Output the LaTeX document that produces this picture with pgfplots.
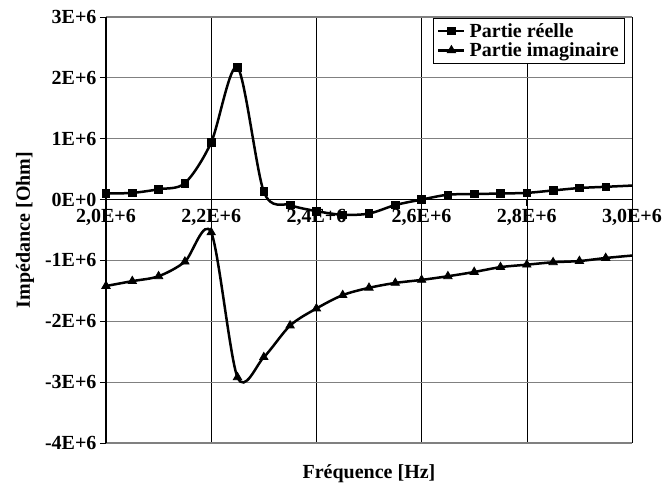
\documentclass[border=0pt]{standalone}
\usepackage{pgfplots}
\pgfplotsset{compat=1.18}
\usepackage{fontspec}
\setmainfont{Liberation Serif}

\pgfplotstableread{
x     re     im
2.00  0.10  -1.42
2.05  0.11  -1.34
2.10  0.17  -1.26
2.15  0.27  -1.02
2.20  0.94  -0.54
2.25  2.17  -2.92
2.30  0.13  -2.59
2.35 -0.09  -2.07
2.40 -0.19  -1.79
2.45 -0.25  -1.57
2.50 -0.23  -1.45
2.55 -0.09  -1.37
2.60  0.00  -1.32
2.65  0.08  -1.26
2.70  0.09  -1.19
2.75  0.10  -1.11
2.80  0.11  -1.07
2.85  0.15  -1.03
2.90  0.19  -1.01
2.95  0.21  -0.96
3.00  0.23  -0.92
}\impedance

\begin{document}
\begin{tikzpicture}
\begin{axis}[
    scale only axis,
    width=526pt, height=426pt,
    xmin=2, xmax=3, ymin=-4, ymax=3,
    axis x line=middle, axis y line=left,
    axis line style={-, black, line width=1.2pt},
    hide obscured x ticks=false, hide obscured y ticks=false,
    xtick={2,2.2,2.4,2.6,2.8,3},
    xticklabels={{2,0E+6},{2,2E+6},{2,4E+6},{2,6E+6},{2,8E+6},{3,0E+6}},
    ytick={-4,-3,-2,-1,0,1,2,3},
    yticklabels={-4E+6,-3E+6,-2E+6,-1E+6,0E+0,1E+6,2E+6,3E+6},
    tick align=outside,
    major tick length=6pt,
    tick style={black, line width=0.8pt},
    grid=major,
    x grid style={black, line width=0.6pt},
    y grid style={gray, line width=1.2pt},
    ticklabel style={font=\bfseries\fontsize{20}{22}\selectfont},
    xlabel={Fréquence [Hz]},
    ylabel={Impédance [Ohm]},
    label style={font=\bfseries\fontsize{20}{22}\selectfont},
    xlabel style={at={(axis description cs:0.5,-0.073)}, anchor=center},
    ylabel style={at={(axis description cs:-0.154,0.5)}, anchor=center, rotate=0},
    legend style={at={(rel axis cs:0.9867,0.9977)}, anchor=north east,
        draw=black, line width=0.6pt, fill=white,
        font=\bfseries\fontsize{20}{22}\selectfont,
        nodes={inner sep=2pt}, row sep=0pt, column sep=2pt,
        inner xsep=4pt, inner ysep=3pt},
    legend cell align=left,
    legend image code/.code={
        \draw[mark indices={2}] plot coordinates {(0pt,0pt) (13pt,0pt) (26pt,0pt)};
    },
]
\addplot[black, line width=2.5pt, smooth, mark=square*, mark size=3.8pt,
    mark indices={1,...,20}, mark options={solid, line width=0.8pt}]
    table[x=x, y=re] {\impedance};
\addlegendentry{Partie réelle}
\addplot[black, line width=2.5pt, smooth, mark=triangle*, mark size=4.8pt,
    mark indices={1,...,20}, mark options={solid, line width=0.8pt}]
    table[x=x, y=im] {\impedance};
\addlegendentry{Partie imaginaire}
\end{axis}
\pgfresetboundingbox
\path[use as bounding box] (-106pt,-45pt) rectangle (558pt,443pt);
\end{tikzpicture}
\end{document}
